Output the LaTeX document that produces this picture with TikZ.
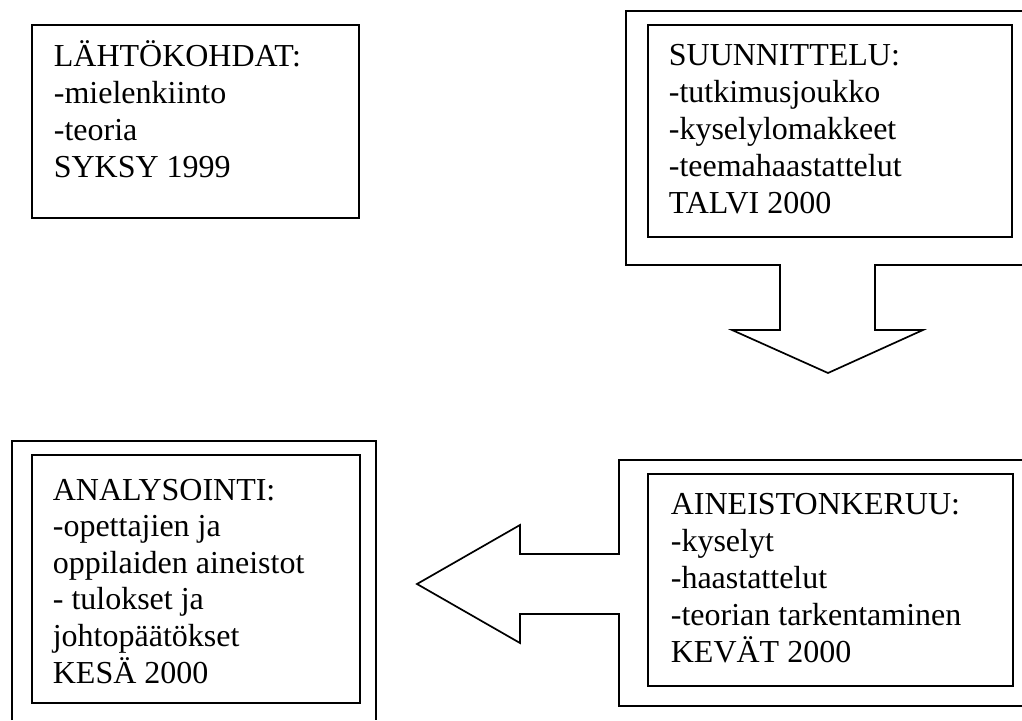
\documentclass[tikz,border=0pt]{standalone}
\usepackage{fontspec}
\setmainfont{Liberation Serif}
\begin{document}
\begin{tikzpicture}[x=1pt,y=-1pt,
  line width=1.7pt, line join=miter,
  txt/.style={anchor=base west, inner sep=0pt, align=left, font=\fontsize{32}{37}\selectfont}]
\useasboundingbox (0,0) rectangle (1022,720);
% top-left box
\node[draw, inner sep=0pt, minimum width=327pt, minimum height=193pt] (boxA) at (195.5,121.5) {};
\node[txt] (tA) at (53,177.5) {LÄHTÖKOHDAT:\\-mielenkiinto\\-teoria\\SYKSY 1999};
% top-right: outer down arrow
\draw (1022,11) coordinate (oB1) -- (626,11) -- (626,265) -- (780,265) -- (780,330) -- (732,330)
  -- (828,373) coordinate (tipB) -- (923,330) -- (875,330) -- (875,265) -- (1022,265) coordinate (oB2);
\node[draw, inner sep=0pt, minimum width=364pt, minimum height=212pt] (boxB) at (830,131) {};
\node[txt] (tB) at (668,213) {SUUNNITTELU:\\-tutkimusjoukko\\-kyselylomakkeet\\-teemahaastattelut\\TALVI 2000};
% bottom-right: outer left arrow
\draw (1022,460) coordinate (oC1) -- (619,460) -- (619,554) -- (520,554) -- (520,525)
  -- (417,584) coordinate (tipC) -- (520,643) -- (520,614) -- (619,614) -- (619,706) -- (1022,706) coordinate (oC2);
\node[draw, inner sep=0pt, minimum width=365pt, minimum height=212pt] (boxC) at (830.5,580) {};
\node[txt] (tC) at (670,662) {AINEISTONKERUU:\\-kyselyt\\-haastattelut\\-teorian tarkentaminen\\KEVÄT 2000};
% bottom-left: outer frame
\draw (12,720) coordinate (oD1) -- (12,441) -- (376,441) -- (376,720) coordinate (oD2);
\node[draw, inner sep=0pt, minimum width=328pt, minimum height=248pt] (boxD) at (196,579) {};
\node[txt, font=\fontsize{32}{36.6}\selectfont] (tD) at (52,683) {ANALYSOINTI:\\-opettajien ja\\oppilaiden aineistot\\- tulokset ja\\johtopäätökset\\KESÄ 2000};
\end{tikzpicture}
\end{document}
